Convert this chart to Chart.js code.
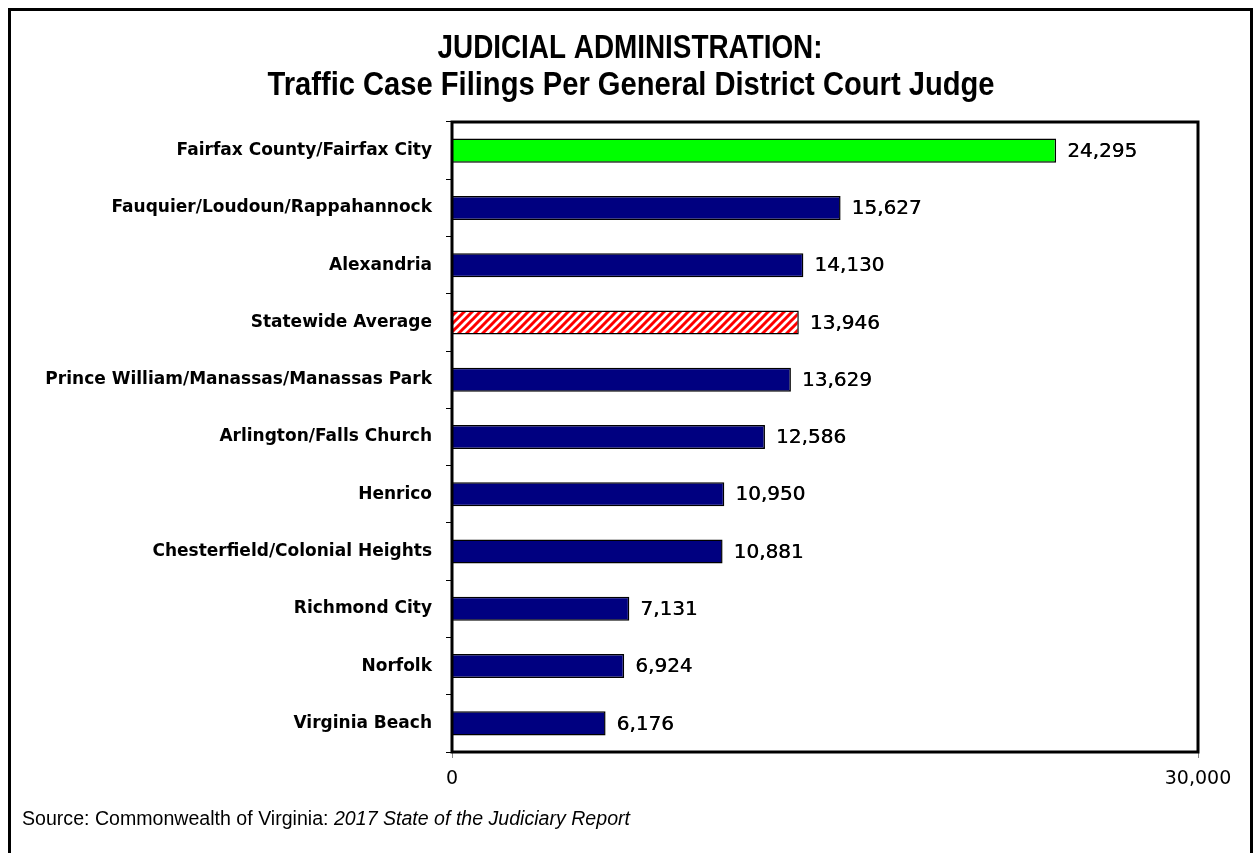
<!DOCTYPE html>
<html lang="en">
<head>
<meta charset="UTF-8" />
<title>Traffic Case Filings Per General District Court Judge</title>
<style>
  html, body { margin: 0; padding: 0; background: #fff; }
  .wrap { width: 1259px; height: 853px; }
</style>
</head>
<body>
<div class="wrap"><canvas id="myChart" width="1259" height="853"></canvas></div>
<script src="https://cdn.jsdelivr.net/npm/chart.js@4"></script>
<script>
  // data
  var courts = [
    "Fairfax County/Fairfax City",
    "Fauquier/Loudoun/Rappahannock",
    "Alexandria",
    "Statewide Average",
    "Prince William/Manassas/Manassas Park",
    "Arlington/Falls Church",
    "Henrico",
    "Chesterfield/Colonial Heights",
    "Richmond City",
    "Norfolk",
    "Virginia Beach"
  ];
  var filings = [24295, 15627, 14130, 13946, 13629, 12586, 10950, 10881, 7131, 6924, 6176];
  var xTicks = [0, 30000];
  var titleLines = ["JUDICIAL ADMINISTRATION:", "Traffic Case Filings Per General District Court Judge"];
  var sourcePlain = "Source: Commonwealth of Virginia: ";
  var sourceItalic = "2017 State of the Judiciary Report";

  var highlight = "Fairfax County/Fairfax City";
  var average = "Statewide Average";

  function fmt(v) {
    return Number(v).toLocaleString("en-US");
  }

  // red / white diagonal hatch for the statewide bar
  function hatch() {
    var c = document.createElement("canvas");
    c.width = 8;
    c.height = 8;
    var g = c.getContext("2d");
    g.fillStyle = "#fff";
    g.fillRect(0, 0, 8, 8);
    g.strokeStyle = "#ff0000";
    g.lineWidth = 3;
    g.beginPath();
    g.moveTo(-4, 4); g.lineTo(4, -4);
    g.moveTo(0, 8); g.lineTo(8, 0);
    g.moveTo(4, 12); g.lineTo(12, 4);
    g.stroke();
    return g.createPattern(c, "repeat");
  }
  var stripes = hatch();

  var barColors = courts.map(function (c) {
    if (c === highlight) return "#00ff00";
    if (c === average) return stripes;
    return "#000080";
  });

  // draw text squeezed sideways so it spans a given width (condensed look)
  function squeezed(ctx, text, x, y, width) {
    var w = ctx.measureText(text).width;
    var k = Math.min(1, width / w);
    ctx.save();
    ctx.translate(x, y);
    ctx.scale(k, 1);
    ctx.fillText(text, 0, 0);
    ctx.restore();
    return w * k;
  }

  var framePlugin = {
    id: "frame",
    beforeDraw: function (chart) {
      var ctx = chart.ctx;
      ctx.save();
      ctx.fillStyle = "#fff";
      ctx.fillRect(0, 0, chart.width, chart.height);
      ctx.strokeStyle = "#000";
      ctx.lineWidth = 3;
      ctx.strokeRect(9.5, 9.5, 1242, 870);
      ctx.restore();
    },
    afterDatasetsDraw: function (chart) {
      var ctx = chart.ctx;
      var a = chart.chartArea;
      ctx.save();
      // plot frame
      ctx.strokeStyle = "#000";
      ctx.lineWidth = 3;
      ctx.strokeRect(a.left, a.top, a.right - a.left, a.bottom - a.top);

      // value labels
      var meta = chart.getDatasetMeta(0);
      ctx.fillStyle = "#000";
      ctx.font = "20px 'DejaVu Sans'";
      ctx.textAlign = "left";
      ctx.textBaseline = "middle";
      meta.data.forEach(function (bar, i) {
        ctx.fillText(fmt(filings[i]), bar.x + 11, bar.y + 1);
        ctx.fillText(fmt(filings[i]), bar.x + 11.4, bar.y + 1);
      });

      // titles (centred, condensed)
      ctx.textAlign = "center";
      ctx.textBaseline = "alphabetic";
      ctx.font = "bold 33px 'Liberation Sans'";
      squeezed(ctx, titleLines[0], 630, 58, 385);
      squeezed(ctx, titleLines[1], 631, 95, 727);

      // source note
      ctx.textAlign = "left";
      ctx.font = "20px 'Liberation Sans'";
      var plainW = ctx.measureText(sourcePlain).width;
      ctx.font = "italic 20px 'Liberation Sans'";
      var italW = ctx.measureText(sourceItalic).width;
      var k = 608 / (plainW + italW);
      ctx.font = "20px 'Liberation Sans'";
      squeezed(ctx, sourcePlain, 22, 825, plainW * k);
      ctx.font = "italic 20px 'Liberation Sans'";
      squeezed(ctx, sourceItalic, 22 + plainW * k, 825, italW * k);
      ctx.restore();
    }
  };

  var ctx = document.getElementById("myChart");
  var myChart = new Chart(ctx, {
    type: "bar",
    data: {
      labels: courts,
      datasets: [
        {
          data: filings,
          backgroundColor: barColors,
          borderColor: "#000",
          borderWidth: 1.5,
          barPercentage: 0.42,
          categoryPercentage: 1
        }
      ]
    },
    options: {
      indexAxis: "y",
      responsive: false,
      animation: false,
      layout: { padding: { top: 122, right: 61, bottom: 0, left: 0 } },
      plugins: {
        legend: { display: false },
        title: { display: false },
        tooltip: { enabled: false }
      },
      scales: {
        x: {
          type: "linear",
          min: 0,
          max: 30000,
          afterBuildTicks: function (axis) {
            axis.ticks = xTicks.map(function (v) { return { value: v }; });
          },
          afterFit: function (scale) {
            scale.height = 101;
          },
          border: { display: false },
          grid: { drawOnChartArea: false, drawTicks: true, tickLength: 6, color: "#888" },
          ticks: {
            color: "#000",
            padding: 10,
            maxRotation: 0,
            font: { family: "'DejaVu Sans'", size: 19 },
            callback: function (v) { return fmt(v); }
          }
        },
        y: {
          type: "category",
          offset: true,
          afterFit: function (scale) {
            scale.width = 452;
          },
          border: { display: false },
          grid: { offset: true, drawOnChartArea: false, drawTicks: true, tickLength: 6, color: "#000" },
          ticks: {
            color: "#000",
            padding: 14,
            font: { family: "'DejaVu Sans'", size: 17, weight: "bold" }
          }
        }
      }
    },
    plugins: [framePlugin]
  });
</script>
</body>
</html>
